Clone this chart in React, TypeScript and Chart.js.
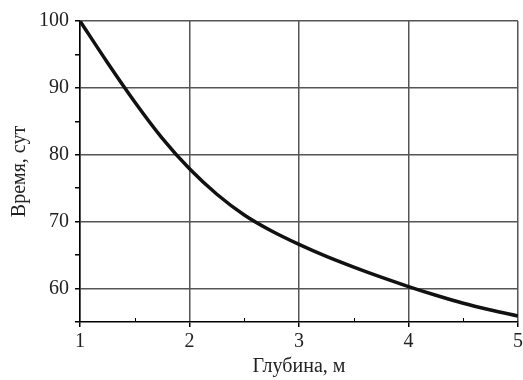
import React, { useEffect, useRef } from "react";
import { Chart, registerables } from "chart.js";

Chart.register(...registerables);

const depth = [1, 1.25, 1.5, 1.75, 2, 2.25, 2.5, 2.75, 3, 3.25, 3.5, 3.75, 4, 4.25, 4.5, 4.75, 5];
const time = [100, 93.8, 87.9, 82.5, 77.9, 74.1, 71.0, 68.6, 66.6, 64.8, 63.2, 61.7, 60.3, 59.0, 57.8, 56.8, 55.9];
const xTitle = "Глубина, м";
const yTitle = "Время, сут";

const FONT = "'Liberation Serif', 'Times New Roman', serif";
const GRID = "#555555";

const minorXTicks = {
  id: "minorXTicks",
  afterDraw(chart: any) {
    const x = chart.scales.x;
    const ctx = chart.ctx;
    const bottom = chart.chartArea.bottom;
    ctx.save();
    ctx.strokeStyle = "#000";
    ctx.lineWidth = 1;
    for (let v = 1.5; v < 5; v += 1) {
      const px = Math.round(x.getPixelForValue(v)) + 0.5;
      ctx.beginPath();
      ctx.moveTo(px, bottom);
      ctx.lineTo(px, bottom - 4);
      ctx.stroke();
    }
    ctx.restore();
  },
};

export default function App() {
  const ref = useRef<HTMLCanvasElement>(null);
  useEffect(() => {
    const chart = new Chart(ref.current!, {
      type: "line",
      data: {
        datasets: [
          {
            data: depth.map((d, i) => ({ x: d, y: time[i] })),
            borderColor: "#111",
            borderWidth: 3.5,
            pointRadius: 0,
            cubicInterpolationMode: "monotone",
          },
        ],
      },
      options: {
        animation: false,
        responsive: false,
        maintainAspectRatio: false,
        layout: { padding: { top: 21, right: 5, left: 0, bottom: 0 } },
        plugins: { legend: { display: false }, tooltip: { enabled: false } },
        scales: {
          x: {
            type: "linear",
            min: 1,
            max: 5,
            afterFit(s: any) {
              s.height = 58;
              s.paddingRight = 0;
              s.paddingLeft = 0;
            },
            ticks: {
              stepSize: 0.5,
              color: "#222",
              font: { family: FONT, size: 20 },
              padding: 3,
              maxRotation: 0,
              callback: (v: any) => (Number(v) % 1 === 0 ? String(v) : ""),
            },
            grid: {
              color: (c: any) => (c.tick && c.tick.value % 1 === 0 ? GRID : "transparent"),
              tickColor: (c: any) => (c.tick && c.tick.value % 1 === 0 ? "#000" : "transparent"),
              tickLength: 5,
              lineWidth: 1.5,
            },
            border: { color: "#000", width: 1.5 },
            title: {
              display: true,
              text: xTitle,
              color: "#222",
              font: { family: FONT, size: 20 },
              padding: { top: 0, bottom: 1 },
            },
          },
          y: {
            min: 55,
            max: 100,
            afterFit(s: any) {
              s.width = 80;
            },
            ticks: {
              stepSize: 5,
              color: "#222",
              font: { family: FONT, size: 20 },
              padding: 6,
              callback: (v: any) => (Number(v) % 10 === 0 ? String(v) : ""),
            },
            grid: {
              color: (c: any) => (c.tick && c.tick.value % 10 === 0 && c.tick.value > 55 ? GRID : "transparent"),
              tickColor: "#000",
              tickLength: 5,
              lineWidth: 1.5,
            },
            border: { color: "#000", width: 1.5 },
            title: {
              display: true,
              text: yTitle,
              color: "#222",
              font: { family: FONT, size: 20 },
              padding: { top: 8, bottom: 0 },
            },
          },
        },
      },
      plugins: [minorXTicks],
    } as any);
    return () => chart.destroy();
  }, []);
  return (
    <div style={{ position: "fixed", left: 0, top: 0, width: 523, height: 380, background: "#fff" }}>
      <canvas ref={ref} width={523} height={380} style={{ width: 523, height: 380 }} />
    </div>
  );
}
